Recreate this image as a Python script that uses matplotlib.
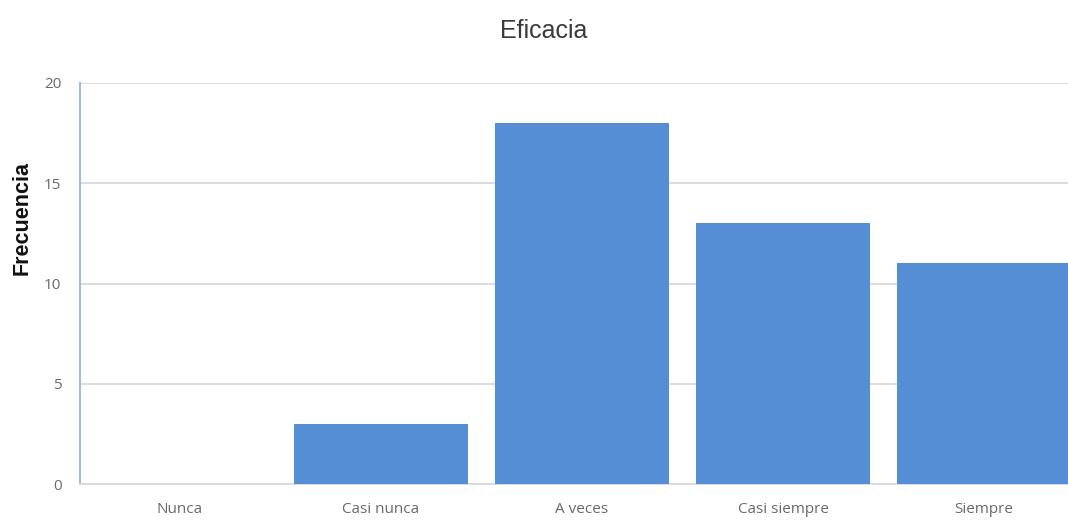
import matplotlib
matplotlib.use('Agg')
import matplotlib.pyplot as plt

categorias = ['Nunca', 'Casi nunca', 'A veces', 'Casi siempre', 'Siempre']
frecuencia = [0, 3, 18, 13, 11]
yticks = [0, 5, 10, 15, 20]

fig = plt.figure(figsize=(10.68, 5.21), dpi=100, facecolor='white')
# axes runs a little past the right edge, like the original crop
ax = fig.add_axes([79.5 / 1068, (521 - 484) / 521, 1005 / 1068, 401 / 521])

ax.bar(range(len(categorias)), frecuencia, width=0.865, color='#558ED5', zorder=3)
ax.set_xlim(-0.5, len(categorias) - 0.5)
ax.set_ylim(0, 20)
ax.set_yticks(yticks)
ax.set_xticks(range(len(categorias)))
ax.set_xticklabels(categorias)

ax.grid(axis='y', color='#D9D9D9', linewidth=1.3, zorder=0)
ax.tick_params(axis='both', length=0, labelsize=11, colors='#6a6a6a')
ax.tick_params(axis='y', pad=13)
ax.tick_params(axis='x', pad=13)
for lab in ax.get_xticklabels() + ax.get_yticklabels():
    lab.set_family('Open Sans')

for s in ['top', 'right']:
    ax.spines[s].set_visible(False)
ax.spines['left'].set_color('#9DBDE6')
ax.spines['left'].set_linewidth(1.5)
ax.spines['bottom'].set_color('#D9D9D9')
ax.spines['bottom'].set_linewidth(1.3)

fig.text(22 / 1068, 1 - 218 / 521, 'Frecuencia', rotation=90, ha='center', va='center',
         fontsize=15.5, fontweight='bold', family='Liberation Sans', color='#111111')
fig.text(544 / 1068, 1 - 31 / 521, 'Eficacia', ha='center', va='center',
         fontsize=18, family='Liberation Sans', color='#3a3a3a')

fig.savefig('out.png', dpi=100, facecolor='white')
